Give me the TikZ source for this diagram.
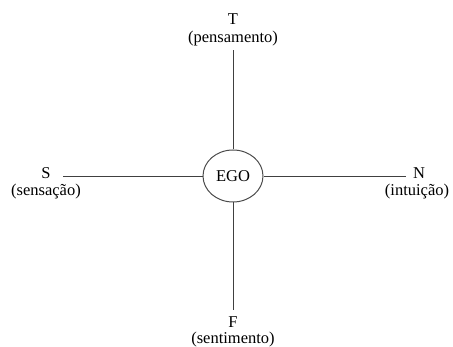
\documentclass[tikz,border=0pt]{standalone}
\usepackage{fontspec}
\setmainfont{Liberation Serif}
\usetikzlibrary{shapes.geometric}
\begin{document}
\begin{tikzpicture}[x=1pt,y=1pt,
    lbl/.style={inner sep=0pt, font=\fontsize{16.5}{19}\selectfont},
    axis/.style={draw=black!75, line width=1pt}]
  \useasboundingbox (0,0) rectangle (453,347);
  % Nodes
  \node (ego) at (233,171) [ellipse, draw=black!70, line width=1pt, minimum width=60pt, minimum height=52pt, inner sep=0pt, font=\fontsize{16.5}{19}\selectfont] {EGO};
  \node (T) at (233,328) [lbl] {T};
  \node (pens) at (233,308.5) [lbl] {(pensamento)};
  \node (F) at (233,25) [lbl] {F};
  \node (sent) at (233,7.5) [lbl] {(sentimento)};
  \node (S) at (46,174) [lbl] {S};
  \node (sens) at (46,155) [lbl] {(sensação)};
  \node (N) at (419,174) [lbl] {N};
  \node (intu) at (417,155) [lbl] {(intuição)};
  \coordinate (top) at (233,297);
  \coordinate (bot) at (233,37);
  \coordinate (lft) at (63,170);
  \coordinate (rgt) at (406,170);

  % Edges
  \draw[axis] (ego.north) -- (top);
  \draw[axis] (ego.south) -- (bot);
  \draw[axis] (ego.west |- lft) -- (lft);
  \draw[axis] (ego.east |- rgt) -- (rgt);
\end{tikzpicture}
\end{document}
